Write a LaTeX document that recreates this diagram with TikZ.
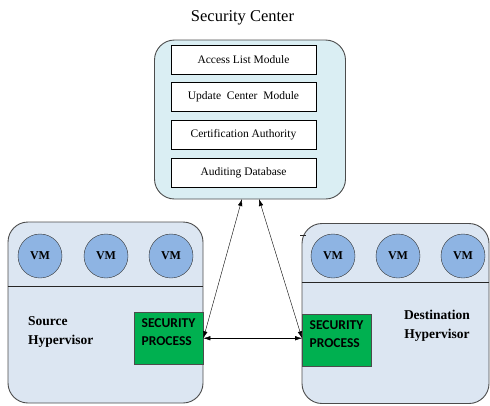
\documentclass[tikz,border=0pt]{standalone}
\usepackage{fontspec}
\setmainfont{Liberation Serif}
\newfontfamily\calfont{Carlito}
\usepackage{xcolor}
\usepackage{tikz}
\usetikzlibrary{arrows.meta}
\definecolor{scfill}{HTML}{DAEEF3}
\definecolor{hvfill}{HTML}{DCE6F2}
\definecolor{vmfill}{HTML}{8EB4E3}
\definecolor{spfill}{HTML}{00B050}
\tikzset{ center_box/.style = {rectangle, rounded corners=20pt, draw=black!70, fill=scfill, line width=0.9pt} }
\tikzset{ module/.style = {rectangle, draw, fill=white, minimum width=145pt, minimum height=29pt, font=\fontsize{11.5}{13}\selectfont} }
\tikzset{ hyper/.style = {rectangle, rounded corners=20pt, draw=black!70, fill=hvfill, line width=0.9pt} }
\tikzset{ vm/.style = {circle, draw=black!80, fill=vmfill, minimum size=44pt, inner sep=0pt, font=\fontsize{12}{13}\selectfont\bfseries} }
\tikzset{ sec_proc/.style = {rectangle, draw=black!70, fill=spfill, minimum width=69pt, text width=54pt, align=left, text height=12.4pt, text depth=33pt, font=\calfont\fontsize{13.5}{18}\selectfont\bfseries} }
\tikzset{ hv_label/.style = {inner sep=0pt, font=\fontsize{13.5}{19}\selectfont\bfseries} }
\tikzset{ link/.style = {arrows={Latex[length=7pt,width=4.5pt]-Latex[length=7pt,width=4.5pt]}, thin} }

\begin{document}
\begin{tikzpicture}[x=1pt,y=-1pt]
        \useasboundingbox (0,0) rectangle (490,405);
        % security center
        \node[font=\fontsize{16.5}{18}\selectfont, anchor=base] (title) at (242.5,21) {Security Center};
        \node[center_box, minimum width=191pt, minimum height=159pt] (center) at (250,119.5) {};
        \node[module] (acl) at (243.5,59.5) {Access List Module};
        \node[module] (upd) at (243.5,96.5) {Update \ Center \ Module};
        \node[module] (ca) at (243.5,134.5) {Certification Authority};
        \node[module] (audit) at (243.5,172.5) {Auditing Database};
        \coordinate (in1) at (242,199);
        \coordinate (in2) at (259,199);

        % source hypervisor
        \node[hyper, minimum width=195pt, minimum height=181pt] (src) at (105.5,312.5) {};
        \draw[black!85] (src.west |- 0,286) -- (src.east |- 0,286);
        \node[vm] (vm1) at (40,256) {VM};
        \node[vm] (vm2) at (106,256) {VM};
        \node[vm] (vm3) at (171,256) {VM};
        \node[hv_label, align=left, anchor=west] (srclbl) at (28,332) {Source\\Hypervisor};
        \node[sec_proc, anchor=north west] (srcsp) at (134,312) {SECURITY\\PROCESS};

        % destination hypervisor
        \node[hyper, minimum width=187pt, minimum height=180pt] (dst) at (395.5,313.5) {};
        \draw[black!85] (dst.west |- 0,282) -- (dst.east |- 0,282);
        \draw[black!85] (300,235) -- (306,235);
        \node[vm] (vm4) at (333,256) {VM};
        \node[vm] (vm5) at (398,256) {VM};
        \node[vm] (vm6) at (463,256) {VM};
        \node[hv_label, align=center] (dstlbl) at (437,326) {Destination\\Hypervisor};
        \node[sec_proc, anchor=north west] (dstsp) at (302,314) {SECURITY\\PROCESS};
        \coordinate (dstin) at (srcsp.east -| dstsp.west);

        \draw[link] (srcsp.east) -- (in1);
        \draw[link] (dstin) -- (in2);
        \draw[link] (srcsp.east) -- (dstin);
    \end{tikzpicture}
\end{document}
